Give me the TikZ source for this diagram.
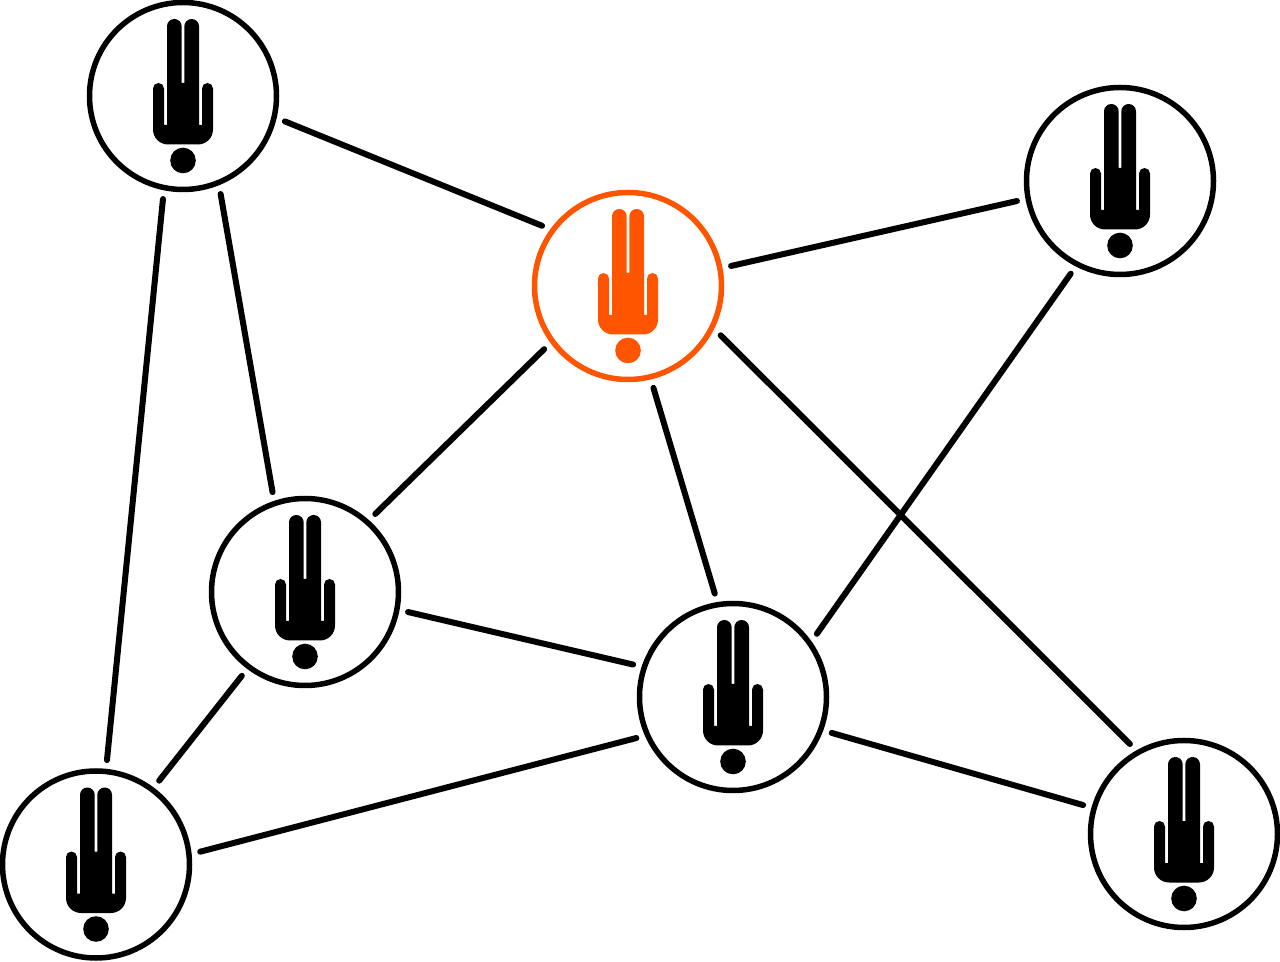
\documentclass[tikz,border=0pt]{standalone}
\usepackage{xcolor}
\usetikzlibrary{positioning}
\definecolor{hotorange}{HTML}{FF5500}
\tikzset{
    hub/.style={circle, draw, line width=0.11cm, inner sep=0pt, minimum size=3.74cm, outer sep=0.23cm},
    link/.style={line width=0.12cm, line cap=round},
    person/.pic={
        % Dos mitades del cuerpo
        \foreach \s in {1,-1} {
            \fill[xscale=\s] (0.026,0.26) -- (0.026,1.393) arc (180:0:0.147) -- (0.32,-0.58) -- (0.38,-0.58)
                -- (0.38,0.15) arc (180:0:0.11) -- (0.60,-0.67) arc (0:-90:0.3) -- (0,-0.97) -- (0,0.26) -- cycle;
        }
        % Cabeza
        \fill (0,-1.29) circle (0.256);
    }
}
\begin{document}
\begin{tikzpicture}
    \useasboundingbox (0,0) rectangle (25.6,19.22);
    % Nodos negros
    \foreach \name/\x/\y in {topleft/3.66/17.30, topright/22.40/15.60, midleft/6.10/7.38,
                             midhub/14.66/5.28, botleft/1.92/1.93, botright/23.68/2.54} {
        \node[hub] (\name) at (\x,\y) {};
        \pic at (\name) {person};
    }
    % Nodo naranja
    \node[hub, draw=hotorange] (mainhub) at (12.56,13.50) {};
    \pic[fill=hotorange] at (mainhub) {person};
    % Conexiones
    \draw[link] (topleft.-14) -- (mainhub.145);
    \draw[link] (topleft.-69) -- (midleft.108);
    \draw[link] (topleft.-101) -- (botleft.84);
    \draw[link] (mainhub.11) -- (topright.191);
    \draw[link] (mainhub.217) -- (midleft.48.5);
    \draw[link] (mainhub.-76) -- (midhub.100);
    \draw[link] (mainhub.-28) -- (botright.121.4);
    \draw[link] (topright.242.5) -- (midhub.37);
    \draw[link] (midleft.-11.4) -- (midhub.162);
    \draw[link] (midleft.233) -- (botleft.53);
    \draw[link] (botleft.7.7) -- (midhub.203.6);
    \draw[link] (midhub.-20) -- (botright.164);
\end{tikzpicture}
\end{document}
